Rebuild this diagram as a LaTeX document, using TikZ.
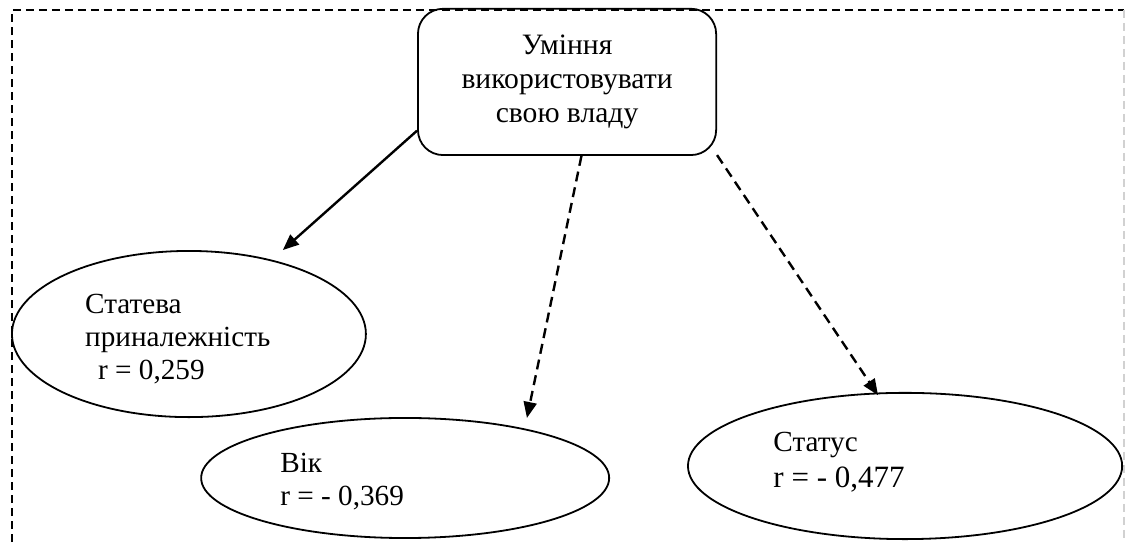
\documentclass[tikz,border=0pt]{standalone}
\usepackage{fontspec}
\setmainfont{Liberation Serif}
\usepackage{tikz}
\usetikzlibrary{arrows.meta,shapes.geometric}

\begin{document}
\begin{tikzpicture}[
  factor/.style={draw, ellipse, line width=0.9pt, inner sep=0pt},
  factortext/.style={anchor=north west, inner sep=0pt, align=left, font=\fontsize{14.6}{16.5}\selectfont},
  link/.style={line width=1.2pt, -{Triangle[length=8pt,width=6.5pt]}},
  weaklink/.style={link, dash pattern=on 5pt off 3pt}
]
\useasboundingbox (0,0) rectangle (19.77,9.525);

\draw[line width=0.8pt, dash pattern=on 4pt off 2.5pt] (0.21,0) -- (0.21,9.35) -- (19.75,9.35);
\draw[line width=0.8pt, dash pattern=on 4pt off 2.5pt, black!18] (19.75,9.35) -- (19.75,0);

\node[draw, rounded corners=0.44cm, line width=0.9pt, minimum width=5.24cm, minimum height=2.57cm,
  align=center, font=\fontsize{14.8}{17.2}\selectfont] (power) at (9.965,8.085)
  {Уміння\\використовувати\\свою владу};

\node[factor, minimum width=6.22cm, minimum height=2.92cm] (gender) at (3.32,3.655) {};
\node[factor, minimum width=7.17cm, minimum height=2.11cm] (age) at (7.12,1.125) {};
\node[factor, minimum width=7.63cm, minimum height=2.57cm] (status) at (15.905,1.336) {};

\node[factortext] (gendertext) at (1.49,4.37) {Статева\\приналежність\\\hspace*{6.5pt}r = 0,259};
\node[factortext] (agetext) at (4.92,1.56) {Вік\\r = - 0,369};
\node[factortext] (statustext) at (13.585,1.93) {Статус\\[1.5pt]{\fontsize{15.5}{18}\selectfont r = - 0,477}};

\coordinate (genderend) at (4.97,5.13);
\coordinate (ageend) at (9.26,2.18);
\coordinate (statusend) at (15.43,2.58);

\draw[link] (power.198) -- (genderend);
\draw[weaklink] (power.-79) -- (ageend);
\draw[weaklink] (power.-26) -- (statusend);
\end{tikzpicture}
\end{document}
